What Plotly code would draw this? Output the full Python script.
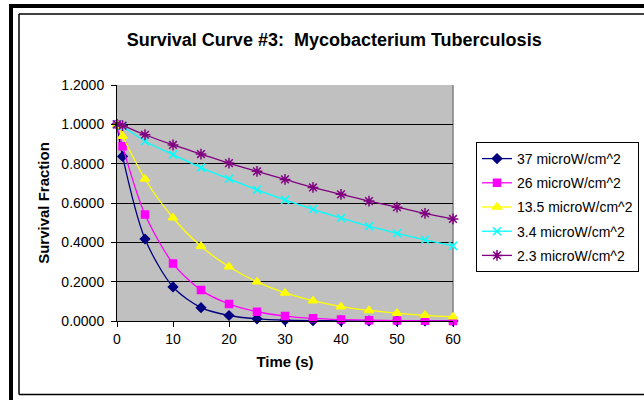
import plotly.graph_objects as go

time_s = [0, 1, 5, 10, 15, 20, 25, 30, 35, 40, 45, 50, 55, 60]
series_names = ["37 microW/cm^2", "26 microW/cm^2", "13.5 microW/cm^2",
                "3.4 microW/cm^2", "2.3 microW/cm^2"]
s37 = [1.0, 0.837, 0.417, 0.173, 0.068, 0.028, 0.011, 0.004, 0.0018, 0.0008, 0.0004, 0.0002, 0.0001, 0.0]
s26 = [1.0, 0.888, 0.541, 0.292, 0.157, 0.087, 0.047, 0.025, 0.0135, 0.0073, 0.004, 0.0021, 0.0011, 0.0006]
s135 = [1.0, 0.939, 0.722, 0.525, 0.380, 0.276, 0.199, 0.143, 0.103, 0.073, 0.054, 0.040, 0.029, 0.021]
s34 = [1.0, 0.990, 0.914, 0.846, 0.780, 0.723, 0.667, 0.616, 0.568, 0.524, 0.482, 0.446, 0.413, 0.382]
s23 = [1.0, 0.993, 0.947, 0.895, 0.849, 0.803, 0.761, 0.720, 0.679, 0.644, 0.610, 0.579, 0.547, 0.519]
all_series = [s37, s26, s135, s34, s23]

colors = ["#000080", "#FF00FF", "#FFFF00", "#00FFFF", "#800080"]
symbols = ["diamond", "square", "triangle-up", "x-thin-open", "asterisk-open"]
sizes = [7, 7, 8, 8, 9]

FONT = "Liberation Sans, Arial, sans-serif"
W, H = 644, 400
L, R, T, B = 117, 453, 85, 321


def px(x):
    return (x - L) / (R - L)


def py(y):
    return (B - y) / (B - T)


fig = go.Figure()
for i, (name, vals) in enumerate(zip(series_names, all_series)):
    fig.add_trace(go.Scatter(
        x=time_s, y=vals, name=name, mode="lines+markers",
        line=dict(color=colors[i], width=1.3, shape="spline", smoothing=0.8),
        marker=dict(symbol=symbols[i], size=sizes[i], color=colors[i],
                    line=dict(color=colors[i], width=1.5)),
        cliponaxis=False, legendgroup=f"g{i}",
    ))

shapes = [
    # thick L frame
    dict(type="rect", xref="paper", yref="paper", x0=px(9), x1=px(13), y0=py(400), y1=py(4),
         fillcolor="black", line=dict(width=0), layer="above"),
    dict(type="rect", xref="paper", yref="paper", x0=px(9), x1=px(650), y0=py(8), y1=py(4),
         fillcolor="black", line=dict(width=0), layer="above"),
    # thin frame
    dict(type="line", xref="paper", yref="paper", x0=px(19), x1=px(19), y0=py(394.5), y1=py(14),
         line=dict(color="black", width=1.5)),
    dict(type="line", xref="paper", yref="paper", x0=px(19), x1=px(650), y0=py(14), y1=py(14),
         line=dict(color="black", width=1.5)),
    dict(type="line", xref="paper", yref="paper", x0=px(19), x1=px(650), y0=py(394.5), y1=py(394.5),
         line=dict(color="black", width=1.5)),
    # plot area right border
    dict(type="line", xref="paper", yref="paper", x0=1, x1=1, y0=0, y1=1,
         line=dict(color="#808080", width=1.5), layer="below"),
]

fig.update_layout(
    width=W, height=H,
    margin=dict(l=L, r=W - R, t=T, b=H - B, autoexpand=False),
    paper_bgcolor="white", plot_bgcolor="#C0C0C0",
    font=dict(family=FONT, size=14, color="black"),
    title=dict(text="<b>Survival Curve #3:  Mycobacterium Tuberculosis</b>",
               x=0.519, xanchor="center", y=1 - 40 / H, yanchor="middle",
               font=dict(size=18, family=FONT, color="black")),
    showlegend=True,
    legend=dict(x=px(476), y=py(142), xanchor="left", yanchor="top",
                bordercolor="black", borderwidth=1, bgcolor="white",
                font=dict(size=14, family=FONT), tracegroupgap=3,
                itemwidth=30),
    shapes=shapes,
)
fig.update_xaxes(range=[0, 60], dtick=10, tick0=0, showgrid=False, zeroline=False,
                 showline=True, linecolor="black", linewidth=1,
                 ticks="outside", ticklen=5, tickcolor="black",
                 title=dict(text="<b>Time (s)</b>", font=dict(size=15), standoff=10))
fig.update_yaxes(range=[0, 1.2], dtick=0.2, tick0=0, tickformat=".4f",
                 showgrid=True, gridcolor="black", gridwidth=1, zeroline=False,
                 showline=True, linecolor="black", linewidth=1,
                 ticks="outside", ticklen=5, tickcolor="black", ticklabelstandoff=4,
                 title=dict(text="<b>Survival Fraction</b>", font=dict(size=15), standoff=8))

fig.write_html("out.html")
